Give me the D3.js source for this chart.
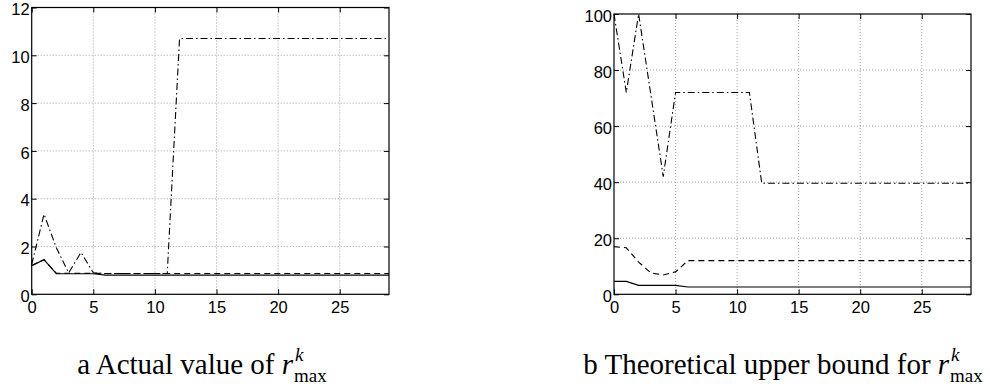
<!DOCTYPE html>
<html>
<head>
<meta charset="utf-8">
<script src="https://cdn.jsdelivr.net/npm/d3@7/dist/d3.min.js"></script>
<style>
  html, body { margin: 0; padding: 0; background: #fff; }
  svg { display: block; }
  .tick text { font-family: "Liberation Sans", Arial, sans-serif; font-size: 16px; fill: #000; }
  .caption { font-family: "Liberation Serif", "Times New Roman", serif; fill: #000; }
</style>
</head>
<body>
<svg id="fig" width="990" height="387"></svg>
<script>
// Iteration index k
const iterations = d3.range(0, 30);

// (a) actual value of r_max^k, three runs
const actualSolid = [1.2, 1.45, 0.86, 0.86, 0.86, 0.86, 0.8, 0.8, 0.8, 0.8, 0.8, 0.8, 0.8, 0.8, 0.8,
  0.8, 0.8, 0.8, 0.8, 0.8, 0.8, 0.8, 0.8, 0.8, 0.8, 0.8, 0.8, 0.8, 0.8, 0.8];
const actualDashed = [1.2, 1.45, 0.88, 0.88, 0.88, 0.88, 0.87, 0.87, 0.87, 0.87, 0.87, 0.87, 0.87, 0.87, 0.87,
  0.87, 0.87, 0.87, 0.87, 0.87, 0.87, 0.87, 0.87, 0.87, 0.87, 0.87, 0.87, 0.87, 0.87, 0.87];
const actualDashDot = [1.25, 3.35, 1.95, 0.9, 1.75, 0.9, 0.87, 0.87, 0.87, 0.87, 0.87, 0.87, 10.7, 10.7, 10.7,
  10.7, 10.7, 10.7, 10.7, 10.7, 10.7, 10.7, 10.7, 10.7, 10.7, 10.7, 10.7, 10.7, 10.7, 10.7];

// (b) theoretical upper bound for r_max^k
const boundSolid = [4.6, 4.6, 3.2, 3.2, 3.2, 3.2, 2.6, 2.6, 2.6, 2.6, 2.6, 2.6, 2.6, 2.6, 2.6,
  2.6, 2.6, 2.6, 2.6, 2.6, 2.6, 2.6, 2.6, 2.6, 2.6, 2.6, 2.6, 2.6, 2.6, 2.6];
const boundDashed = [17, 16.6, 11.5, 7.6, 6.9, 8, 12, 12, 12, 12, 12, 12, 12, 12, 12,
  12, 12, 12, 12, 12, 12, 12, 12, 12, 12, 12, 12, 12, 12, 12];
const boundDashDot = [100, 72, 100, 71, 42, 72, 72, 72, 72, 72, 72, 72, 39.6, 39.6, 39.6,
  39.6, 39.6, 39.6, 39.6, 39.6, 39.6, 39.6, 39.6, 39.6, 39.6, 39.6, 39.6, 39.6, 39.6, 39.6];

const xTicks = [0, 5, 10, 15, 20, 25];
const yTicksA = [0, 2, 4, 6, 8, 10, 12];
const yTicksB = [0, 20, 40, 60, 80, 100];

const lineStyles = [
  { dash: null, width: 1.2 },
  { dash: "6,4", width: 1.1 },
  { dash: "7,3,1.5,3", width: 1.1 }
];

const svg = d3.select("#fig");

function caption(text, centerX, baseline) {
  const g = svg.append("g").attr("class", "caption");
  const main = g.append("text").attr("y", baseline).style("font-size", "29px");
  main.append("tspan").text(text + " ");
  main.append("tspan").attr("font-style", "italic").text("r");
  const mainW = main.node().getComputedTextLength();
  const sup = g.append("text").attr("y", baseline - 13).attr("font-style", "italic")
    .style("font-size", "19px").text("k");
  const sub = g.append("text").attr("y", baseline + 8)
    .style("font-size", "19px").text("max");
  const subW = sub.node().getComputedTextLength();
  const total = mainW + 1 + subW;
  const x0 = centerX - total / 2;
  main.attr("x", x0);
  sup.attr("x", x0 + mainW + 2);
  sub.attr("x", x0 + mainW + 1);
}

function panel(opts) {
  const { left, right, top, bottom, yMax, yTicks, series } = opts;
  const x = d3.scaleLinear().domain([0, 29]).range([left, right]);
  const y = d3.scaleLinear().domain([0, yMax]).range([bottom, top]);
  const g = svg.append("g");

  // grid
  g.append("g").selectAll("line").data(xTicks.filter(d => d > 0)).join("line")
    .attr("x1", d => x(d)).attr("x2", d => x(d)).attr("y1", top).attr("y2", bottom)
    .attr("stroke", "#8c8c8c").attr("stroke-width", 0.8).attr("stroke-dasharray", "1,2");
  g.append("g").selectAll("line").data(yTicks.filter(d => d > 0 && d < yMax)).join("line")
    .attr("y1", d => y(d)).attr("y2", d => y(d)).attr("x1", left).attr("x2", right)
    .attr("stroke", "#8c8c8c").attr("stroke-width", 0.8).attr("stroke-dasharray", "1,2");

  // data lines
  const line = d3.line().x((d, i) => x(iterations[i])).y(d => y(d));
  series.forEach((s, i) => {
    g.append("path").datum(s).attr("d", line)
      .attr("fill", "none").attr("stroke", "#000")
      .attr("stroke-width", lineStyles[i].width)
      .attr("stroke-dasharray", lineStyles[i].dash);
  });

  // axes with inward ticks on all four sides
  const tk = 5;
  const bottomAxis = g.append("g").attr("transform", `translate(0,${bottom})`)
    .call(d3.axisBottom(x).tickValues(xTicks).tickSize(-tk).tickPadding(7));
  const leftAxis = g.append("g").attr("transform", `translate(${left},0)`)
    .call(d3.axisLeft(y).tickValues(yTicks).tickSize(-tk).tickPadding(2));
  g.append("g").attr("transform", `translate(0,${top})`)
    .call(d3.axisTop(x).tickValues(xTicks).tickSize(-tk).tickFormat(""));
  g.append("g").attr("transform", `translate(${right},0)`)
    .call(d3.axisRight(y).tickValues(yTicks).tickSize(-tk).tickFormat(""));
  g.selectAll(".domain").remove();
  g.selectAll(".tick line").attr("stroke", "#000").attr("stroke-width", 1);
  g.selectAll(".tick text").style("font-size", "16.5px");
  bottomAxis.selectAll(".tick text").attr("dy", "0.71em");
  leftAxis.selectAll(".tick text").attr("dy", "0.44em");

  g.append("rect").attr("x", left).attr("y", top)
    .attr("width", right - left).attr("height", bottom - top)
    .attr("fill", "none").attr("stroke", "#000").attr("stroke-width", 1.2);
}

panel({
  left: 31.7, right: 389, top: 7.5, bottom: 294.3, yMax: 12, yTicks: yTicksA,
  series: [actualSolid, actualDashed, actualDashDot]
});
panel({
  left: 614, right: 971, top: 14, bottom: 294.3, yMax: 100, yTicks: yTicksB,
  series: [boundSolid, boundDashed, boundDashDot]
});

caption("a Actual value of", 202, 374);
caption("b Theoretical upper bound for", 783, 374);
</script>
</body>
</html>
